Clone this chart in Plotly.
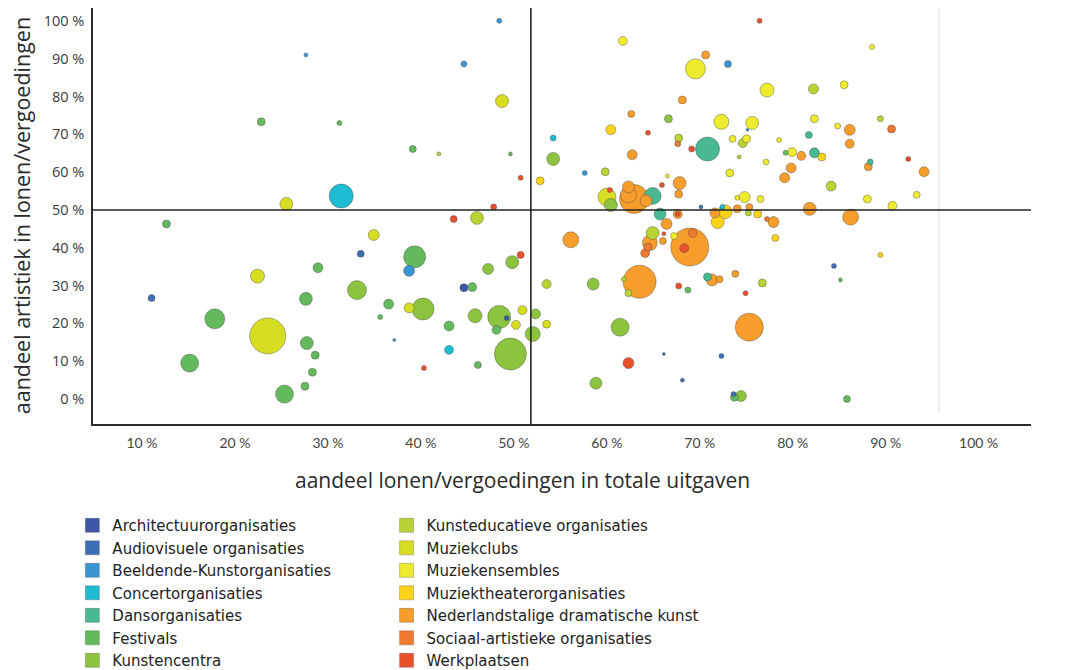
import plotly.graph_objects as go
import pandas as pd

# --- categories -------------------------------------------------------------
sectoren = [
    "Architectuurorganisaties", "Audiovisuele organisaties", "Beeldende-Kunstorganisaties",
    "Concertorganisaties", "Dansorganisaties", "Festivals", "Kunstencentra",
    "Kunsteducatieve organisaties", "Muziekclubs", "Muziekensembles",
    "Muziektheaterorganisaties", "Nederlandstalige dramatische kunst",
    "Sociaal-artistieke organisaties", "Werkplaatsen",
]
sector_codes = ["A", "AV", "B", "C", "D", "F", "K", "KE", "MC", "ME", "MT", "N", "S", "W"]
kleuren = [
    "#3b57a5", "#3e6fb6", "#3b95d3", "#1ebcd3", "#48b990", "#63b95c", "#8cc43f",
    "#b8d334", "#d7dd20", "#eeea2d", "#fcd318", "#f69d2c", "#f17830", "#e9512c",
]

# --- data (x: aandeel lonen in uitgaven %, y: aandeel artistiek %, omvang, sector)
x_lonen = [
    46.6, 25.8, 42.8, 46.9, 21.0, 29.4, 37.3, 40.1, 47.8, 48.9,
    23.7, 29.6, 46.0, 10.8, 41.7, 44.2, 33.1, 31.7, 37.5, 36.9,
    48.9, 27.1, 20.6, 48.0, 45.4, 9.2, 25.8, 31.3, 34.7, 42.8,
    43.7, 16.0, 38.4, 36.9, 33.8, 44.0, 46.6, 47.4, 49.1, 46.3,
    48.4, 50.2, 21.7, 25.9, 26.8, 41.2, 35.3, 41.2, 47.8, 13.3,
    26.5, 44.3, 38.5, 25.7, 23.5,
    51.0, 52.4, 52.4, 55.8, 58.0, 59.9, 74.6, 68.8, 67.7, 71.2,
    75.4, 66.3, 60.8, 64.8, 58.6, 62.6, 70.5, 73.8, 73.3, 65.9,
    65.8, 67.3, 69.0, 71.7, 73.2, 72.8, 76.7, 60.9, 72.4, 71.4,
    75.3, 64.7, 64.1, 66.0, 65.9, 58.5, 58.2, 58.6, 61.1, 60.5,
    60.5, 63.1, 62.4, 63.9, 64.6, 65.8, 65.8, 73.0, 72.2, 74.7,
    72.2, 73.5, 73.4, 74.4, 75.4, 76.1, 76.3, 68.3, 70.6, 70.1,
    70.9, 69.8, 86.7, 80.4, 83.7, 80.5, 83.0, 87.6, 84.3, 88.8,
    79.9, 84.3, 77.4, 78.1, 79.1, 80.5, 81.3, 78.0, 77.3, 86.5,
    86.3, 90.6, 92.3, 82.3, 86.2, 91.5, 88.9, 80.0, 84.4, 87.6,
    82.6, 54.3, 56.7, 59.6, 57.0, 60.5, 61.7, 60.0, 60.5, 67.1,
    66.5, 67.4, 63.1, 62.8, 62.6, 62.3, 64.2, 64.3, 65.4, 65.9,
    66.9, 69.0, 69.5, 70.3, 72.0, 73.1, 74.9, 73.5, 64.3, 70.5,
    66.3, 72.6, 71.9, 71.8, 83.3, 84.0, 51.7, 51.7, 50.5,
]
y_artistiek = [
    100.0, 91.0, 88.6, 78.8, 73.3, 73.0, 66.1, 64.8, 64.8, 58.5,
    51.6, 53.7, 50.8, 46.3, 47.6, 47.9, 43.4, 38.4, 37.6, 33.9,
    38.1, 34.7, 32.5, 36.2, 34.4, 26.7, 26.5, 28.8, 25.1, 29.4,
    29.6, 21.2, 23.8, 24.1, 21.7, 22.0, 21.7, 21.4, 23.5, 18.3,
    19.6, 17.2, 16.7, 14.8, 11.6, 19.3, 15.6, 13.0, 11.9, 9.5,
    7.1, 9.0, 8.2, 3.4, 1.3,
    57.7, 69.0, 63.5, 59.8, 60.1, 94.7, 100.0, 91.0, 87.3, 88.6,
    81.7, 79.1, 75.4, 74.1, 71.2, 70.4, 73.3, 73.0, 71.2, 69.0,
    67.5, 66.1, 66.1, 68.8, 68.8, 67.7, 68.5, 64.6, 64.0, 59.8,
    62.7, 59.0, 56.6, 57.1, 54.2, 55.3, 53.4, 51.3, 52.9, 56.1,
    54.0, 53.7, 52.4, 48.9, 46.3, 48.9, 48.9, 53.4, 53.2, 52.9,
    50.3, 50.8, 49.2, 48.9, 47.6, 46.8, 42.6, 50.8, 50.8, 46.8,
    49.5, 49.2, 93.1, 82.0, 83.1, 74.1, 72.2, 74.1, 71.2, 71.4,
    69.8, 67.5, 65.1, 65.3, 64.3, 65.1, 64.0, 61.1, 58.5, 62.7,
    61.4, 63.5, 60.1, 56.3, 52.9, 54.0, 51.1, 50.3, 48.1, 38.1,
    35.2, 42.1, 30.4, 19.0, 4.2, 9.5, 31.0, 31.7, 28.0, 40.2,
    39.9, 43.9, 43.9, 41.3, 40.2, 38.6, 41.8, 43.7, 43.1, 29.9,
    28.8, 32.3, 31.5, 31.7, 33.1, 28.0, 30.7, 19.0, 11.9, 11.4,
    5.0, 0.8, 0.5, 1.3, 31.5, 0.0, 30.4, 19.8, 22.5,
]
omvang = [
    5, 4, 6, 13, 8, 5, 7, 4, 4, 5,
    13, 24, 6, 8, 7, 13, 11, 7, 22, 11,
    7, 10, 14, 13, 11, 7, 13, 19, 10, 8,
    9, 20, 22, 10, 5, 14, 23, 5, 9, 9,
    9, 15, 36, 13, 8, 10, 3, 9, 32, 18,
    8, 7, 5, 8, 18,
    8, 6, 13, 5, 8, 9, 5, 8, 20, 7,
    14, 8, 7, 8, 10, 5, 15, 13, 3, 8,
    6, 6, 24, 7, 8, 9, 5, 10, 4, 8,
    6, 4, 5, 13, 8, 5, 18, 13, 29, 12,
    16, 17, 12, 12, 11, 9, 5, 11, 5, 7,
    8, 7, 6, 8, 5, 11, 7, 4, 5, 13,
    14, 10, 5, 10, 8, 8, 6, 6, 11, 8,
    7, 9, 5, 9, 9, 10, 8, 10, 10, 6,
    8, 5, 10, 10, 8, 7, 9, 13, 16, 5,
    5, 16, 12, 18, 12, 11, 33, 5, 7, 38,
    9, 9, 13, 15, 8, 9, 7, 4, 7, 6,
    6, 8, 12, 7, 7, 5, 8, 28, 3, 5,
    4, 11, 8, 5, 4, 7, 9, 8, 10,
]
sector = [
    "B", "B", "B", "MC", "F", "F", "F", "KE", "F", "W",
    "MC", "C", "W", "F", "W", "KE", "MC", "AV", "F", "B",
    "W", "F", "MC", "K", "K", "AV", "F", "K", "F", "A",
    "F", "F", "K", "MC", "F", "K", "K", "A", "MC", "F",
    "MC", "K", "MC", "F", "F", "F", "B", "C", "K", "F",
    "F", "F", "W", "F", "F",
    "MT", "C", "K", "B", "KE", "ME", "W", "N", "ME", "B",
    "ME", "N", "N", "K", "MT", "W", "ME", "ME", "B", "KE",
    "S", "W", "D", "ME", "ME", "KE", "ME", "N", "KE", "ME",
    "ME", "ME", "W", "N", "N", "W", "MC", "K", "N", "N",
    "N", "D", "N", "D", "N", "N", "W", "ME", "ME", "ME",
    "N", "N", "KE", "MT", "S", "N", "MT", "AV", "C", "MT",
    "MT", "N", "ME", "KE", "ME", "ME", "ME", "KE", "N", "S",
    "D", "N", "F", "ME", "N", "D", "MT", "N", "N", "D",
    "N", "W", "N", "KE", "ME", "ME", "ME", "N", "N", "MT",
    "AV", "N", "K", "K", "K", "W", "N", "KE", "KE", "N",
    "W", "S", "KE", "N", "S", "S", "N", "W", "ME", "W",
    "F", "D", "N", "N", "N", "W", "KE", "N", "AV", "AV",
    "AV", "K", "F", "AV", "F", "F", "KE", "MC", "K",
]

x_ticks = [10, 20, 30, 40, 50, 60, 70, 80, 90, 100]
y_ticks = [0, 10, 20, 30, 40, 50, 60, 70, 80, 90, 100]

# --- figure -----------------------------------------------------------------
kleur_map = dict(zip(sector_codes, kleuren))
df = pd.DataFrame({"x": x_lonen, "y": y_artistiek, "s": omvang, "c": sector})
df = df.sort_values("s", ascending=False, kind="stable")

FONT = "'Open Sans', Lato, sans-serif"
LEGFONT = "'DejaVu Sans', 'Open Sans', sans-serif"
TICKFONT = "Lato, 'Open Sans', sans-serif"

fig = go.Figure()
fig.add_trace(go.Scatter(
    x=df["x"], y=df["y"], mode="markers", showlegend=False, hoverinfo="skip",
    marker=dict(size=df["s"], sizemode="diameter", sizeref=1,
                color=[kleur_map[c] for c in df["c"]], opacity=1,
                line=dict(width=0.8, color="rgba(70,70,70,0.5)")),
))
for i, (naam, kl) in enumerate(zip(sectoren, kleuren)):
    fig.add_trace(go.Scatter(
        x=[None], y=[None], mode="markers", name=naam,
        marker=dict(symbol="square", size=14, color=kl,
                    line=dict(width=0.8, color="rgba(60,60,60,0.35)")),
        legend="legend" if i < 7 else "legend2",
    ))

XR = [2.9, 103.8]
YR = [-6.6, 103.4]

fig.update_layout(
    width=1058, height=662,
    margin=dict(l=85, r=35, t=0, b=246, autoexpand=False),
    paper_bgcolor="white", plot_bgcolor="white",
    font=dict(family=FONT, color="#2a2a2a"),
    xaxis=dict(range=XR, showgrid=False, zeroline=False, showline=True,
               linecolor="#2b2b2b", linewidth=1.5, ticks="",
               tickvals=x_ticks, ticktext=[f"{v} %" for v in x_ticks],
               tickfont=dict(family=TICKFONT, size=14, color="#444444"),
               ticklabelstandoff=5, ticklabelshift=-17),
    yaxis=dict(range=YR, showgrid=False, zeroline=False, showline=True,
               linecolor="#2b2b2b", linewidth=1.5, ticks="",
               tickvals=y_ticks, ticktext=[f"{v} %" for v in y_ticks],
               tickfont=dict(family=FONT, size=14.5, color="#3a3a3a"),
               ticklabelstandoff=4),
    shapes=[
        dict(type="line", xref="x", yref="y", x0=93.9, x1=93.9, y0=-3.7, y1=103.4,
             line=dict(color="#dddddd", width=1), layer="below"),
        dict(type="line", xref="paper", yref="y", x0=0, x1=1, y0=50, y1=50,
             line=dict(color="#222222", width=1.6), layer="above"),
        dict(type="line", xref="x", yref="paper", x0=50, x1=50, y0=0, y1=1,
             line=dict(color="#222222", width=1.6), layer="above"),
    ],
    annotations=[
        dict(text="aandeel lonen/vergoedingen in totale uitgaven", xref="paper", yref="paper",
             x=0.458, y=-0.135, xanchor="center", yanchor="middle", showarrow=False,
             font=dict(family=FONT, size=21, color="#2a2a2a")),
        dict(text="aandeel artistiek in lonen/vergoedingen", xref="paper", yref="paper",
             x=-0.0765, y=0.5, xanchor="center", yanchor="middle", showarrow=False,
             textangle=-90, font=dict(family=FONT, size=21.5, color="#2a2a2a")),
    ],
    legend=dict(x=-0.022, y=-0.2046, xanchor="left", yanchor="top",
                bgcolor="rgba(0,0,0,0)", font=dict(family=LEGFONT, size=15, color="#222"),
                tracegroupgap=0, itemclick=False),
    legend2=dict(x=0.313, y=-0.2046, xanchor="left", yanchor="top",
                 bgcolor="rgba(0,0,0,0)", font=dict(family=LEGFONT, size=15, color="#222"),
                 tracegroupgap=0, itemclick=False),
)

fig.write_html("out.html")
